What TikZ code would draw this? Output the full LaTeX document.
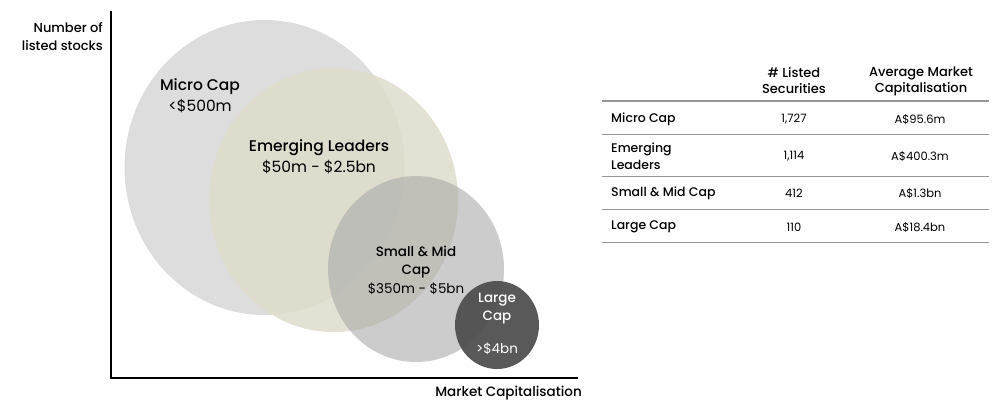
\documentclass[tikz,border=0pt]{standalone}
\usepackage{fontspec}
\setmainfont{Poppins}
\newfontfamily\medfont{Poppins Medium}
\usepackage{xcolor}
\usetikzlibrary{positioning}
\definecolor{microgray}{RGB}{221,221,221}
\definecolor{emergbeige}{RGB}{222,220,203}
\definecolor{smallgray}{RGB}{170,170,170}
\definecolor{largegray}{RGB}{80,80,80}
\definecolor{rulegray}{RGB}{150,150,150}

\begin{document}
\begin{tikzpicture}[x=1pt, y=-1pt,
        lbl/.style={align=center, inner sep=0pt},
        cell/.style={font=\fontsize{11.5}{14}\selectfont, inner sep=0pt},
        rowname/.style={font=\medfont\fontsize{12.5}{15}\selectfont, anchor=west, align=left, inner sep=0pt}]
        \useasboundingbox (0,0) rectangle (997,401);
        % bubbles
        \fill[microgray] (264.5,167.5) ellipse [x radius=140, y radius=147.5];
        \fill[emergbeige, opacity=0.85] (333.5,200) ellipse [x radius=124.5, y radius=132];
        \fill[smallgray, opacity=0.6] (416,269) ellipse [x radius=88, y radius=93];
        \fill[largegray, opacity=0.95] (497,325) ellipse [x radius=42, y radius=44];
        % bubble labels
        \node (micro) [lbl, font=\medfont\fontsize{15.5}{21}\selectfont] at (200,96) {Micro Cap\\{\rmfamily <\$500m}};
        \node (emerg) [lbl, font=\medfont\fontsize{15.5}{21}\selectfont] at (319,157) {Emerging Leaders\\{\rmfamily \$50m - \$2.5bn}};
        \node (small) [lbl, font=\medfont\fontsize{13.5}{18.5}\selectfont] at (416,270) {Small \& Mid\\Cap\\{\rmfamily \$350m - \$5bn}};
        \node (large) [lbl, text=white, font=\medfont\fontsize{13.5}{18}\selectfont] at (497,309) {Large\\Cap};
        \node (largeval) [lbl, text=white, font=\fontsize{13.5}{16}\selectfont] at (497,349) {>\$4bn};
        % axes
        \coordinate (top) at (111,11);
        \coordinate (origin) at (111,378);
        \coordinate (right) at (578,378);
        \draw[line width=1.6pt] (top) -- (origin) -- (right);
        \node (ylab) [align=right, anchor=east, inner sep=0pt, font=\medfont\fontsize{13}{18}\selectfont] at (103,37) {Number of\\listed stocks};
        \node (xlab) [anchor=east, inner sep=0pt, font=\medfont\fontsize{13.5}{16}\selectfont] at (582,393) {Market Capitalisation};
        % table
        \node (h1) [cell, align=center, font=\medfont\fontsize{13}{16}\selectfont] at (794,81) {\# Listed\\Securities};
        \node (h2) [cell, align=center, font=\medfont\fontsize{13}{16}\selectfont] at (921,81) {Average Market\\Capitalisation};
        \draw[rulegray, line width=1.4pt] (602,101) -- (989,101);
        \node (r1) [rowname] at (611,119) {Micro Cap};
        \node [cell] at (794,119) {1,727};
        \node [cell] at (920,119) {A\$95.6m};
        \draw[rulegray, line width=0.8pt] (602,134) -- (989,134);
        \node (r2) [rowname, font=\medfont\fontsize{12.5}{17}\selectfont] at (611,156) {Emerging\\Leaders};
        \node [cell] at (794,156) {1,114};
        \node [cell] at (920,156) {A\$400.3m};
        \draw[rulegray, line width=0.8pt] (602,176) -- (989,176);
        \node (r3) [rowname] at (611,193) {Small \& Mid Cap};
        \node [cell] at (794,193) {412};
        \node [cell] at (920,193) {A\$1.3bn};
        \draw[rulegray, line width=0.8pt] (602,209) -- (989,209);
        \node (r4) [rowname] at (611,227) {Large Cap};
        \node [cell] at (794,227) {110};
        \node [cell] at (920,227) {A\$18.4bn};
        \draw[rulegray, line width=0.8pt] (602,242) -- (989,242);
    \end{tikzpicture}
\end{document}
